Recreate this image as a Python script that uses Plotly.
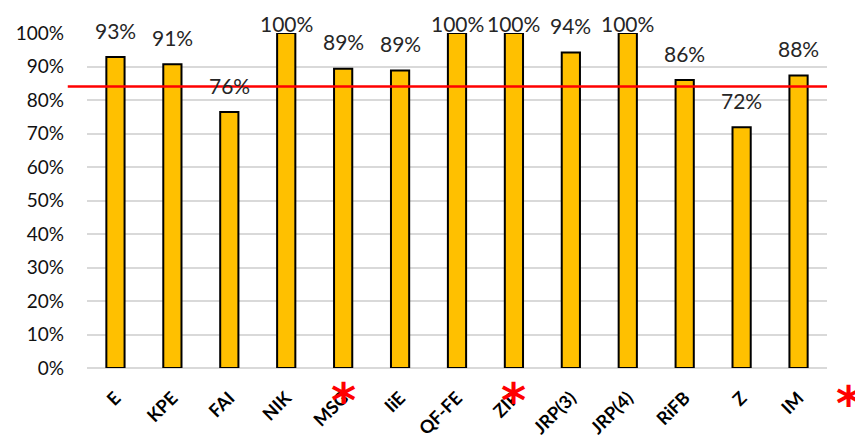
import plotly.graph_objects as go

categories = ["E", "KPE", "FAI", "NIK", "MSG", "IiE", "QF-FE", "ZIP", "JRP(3)", "JRP(4)", "RiFB", "Z", "IM"]
values = [0.928, 0.907, 0.764, 1.0, 0.893, 0.888, 1.0, 1.0, 0.942, 1.0, 0.86, 0.719, 0.873]
value_labels = ["93%", "91%", "76%", "100%", "89%", "89%", "100%", "100%", "94%", "100%", "86%", "72%", "88%"]
target = 0.84
asterisk_categories = ["MSG", "ZIP"]

FONT = "Lato"

fig = go.Figure()
fig.add_trace(go.Bar(
    x=categories, y=values,
    marker=dict(color="#FFC000", line=dict(color="black", width=2)),
    width=0.32, cliponaxis=False,
))

annotations = []
for c, v, t in zip(categories, values, value_labels):
    annotations.append(dict(
        x=c, y=min(v + 0.037, 0.984), xref="x", yref="y", text=t,
        showarrow=False, yanchor="bottom", font=dict(family=FONT, size=21, color="#262626"),
    ))
for c in asterisk_categories:
    annotations.append(dict(
        x=c, y=-0.095, xref="x", yref="paper", text="<b>*</b>", showarrow=False,
        font=dict(family="DejaVu Sans", size=48, color="red"), yanchor="middle", xanchor="center",
    ))
annotations.append(dict(
    x=1.029, y=-0.104, xref="paper", yref="paper", text="<b>*</b>", showarrow=False,
    font=dict(family="DejaVu Sans", size=48, color="red"), yanchor="middle", xanchor="center",
))

fig.add_shape(type="line", xref="paper", yref="y", x0=-0.026, x1=1.0, y0=target, y1=target,
              line=dict(color="red", width=2.5))

fig.update_layout(
    width=855, height=434,
    margin=dict(l=79, r=36, t=25, b=74, autoexpand=False),
    plot_bgcolor="white", paper_bgcolor="white",
    showlegend=False,
    annotations=annotations,
    font=dict(family=FONT, color="black"),
    xaxis=dict(
        range=[-0.5, 12.5], automargin=False,
        tickangle=-45, tickfont=dict(family=FONT, size=18, color="black", weight="bold"),
        showgrid=False, showline=False, ticks="", ticklabelstandoff=15,
    ),
    yaxis=dict(
        range=[0, 1.0], automargin=False, tickvals=[0, 0.1, 0.2, 0.3, 0.4, 0.5, 0.6, 0.7, 0.8, 0.9, 1.0],
        tickformat=".0%", tickfont=dict(family=FONT, size=19, color="#111111"),
        showgrid=True, gridcolor="#d9d9d9", gridwidth=1.5,
        zeroline=True, zerolinecolor="#d9d9d9", zerolinewidth=1.5,
        showline=False, ticks="", ticklabelstandoff=22,
    ),
)

fig.write_html("out.html")
